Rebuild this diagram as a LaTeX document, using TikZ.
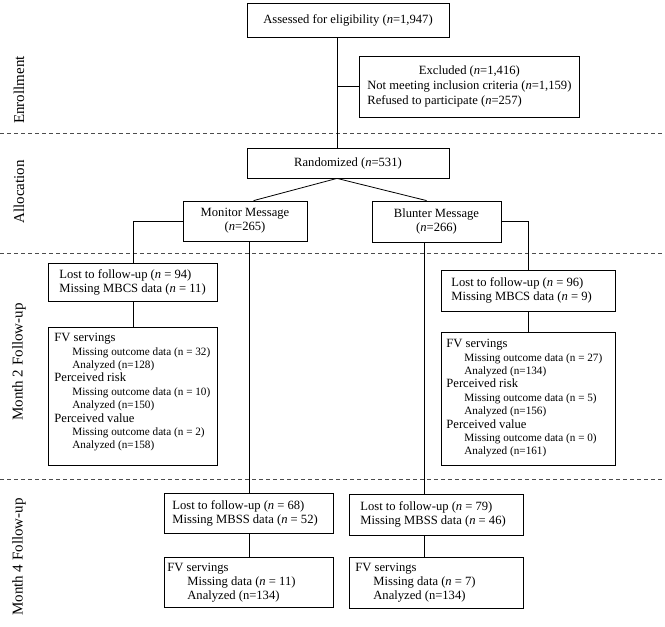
\documentclass[tikz,border=0pt]{standalone}
\usepackage{fontspec}
\setmainfont{Liberation Serif}
\usetikzlibrary{calc}
\newcommand\bxf{\fontsize{12.6}{14}\selectfont}
\newcommand\exf{\fontsize{12.6}{15}\selectfont}
\newcommand\fvf{\fontsize{12.6}{13.4}\selectfont}
\newcommand\sbf{\fontsize{11.2}{13.4}\selectfont}
\newcommand\phf{\fontsize{15}{17}\selectfont}
\newcommand\ind[1]{\hspace*{18pt}{\sbf #1}}
\newcommand\lb[3]{\parbox{#1}{\bxf\raggedright\leftskip=#2\relax #3\par}}
\begin{document}
\begin{tikzpicture}[x=1pt,y=-1pt,
  box/.style={draw, line width=0.8pt, inner sep=0pt, font=\bxf},
  conn/.style={line width=0.8pt},
  sepline/.style={line width=0.7pt, dash pattern=on 4pt off 3pt, draw=black!70},
  phase/.style={rotate=90, font=\phf, inner sep=0pt}]
\useasboundingbox (0,0) rectangle (665,627);

% phase separators
\draw[sepline] (0,133) -- (665,133);
\draw[sepline] (0,253) -- (665,253);
\draw[sepline] (0,479) -- (665,479);

% phase labels
\node[phase] (ph1) at (19,90) {Enrollment};
\node[phase] (ph2) at (19,192) {Allocation};
\node[phase] (ph3) at (19,362) {Month 2 Follow-up};
\node[phase] (ph4) at (19,557) {Month 4 Follow-up};

% enrollment
\node[box, minimum width=202pt, minimum height=34pt] (assess) at (348,20)
  {Assessed for eligibility (\textit{n}=1,947)};
\node[box, font=\exf, minimum width=220pt, minimum height=61pt, anchor=west] (excl) at (359,86.5)
  {\begin{tabular}{@{}l@{}}\multicolumn{1}{@{}c@{}}{Excluded (\textit{n}=1,416)}\\
   Not meeting inclusion criteria (\textit{n}=1,159)\\
   Refused to participate (\textit{n}=257)\end{tabular}};

% allocation
\node[box, minimum width=202pt, minimum height=30pt] (rand) at (348,163)
  {Randomized (\textit{n}=531)};
\node[box, align=center, minimum width=124pt, minimum height=40pt] (mon) at (245,221)
  {Monitor Message\\(\textit{n}=265)};
\node[box, align=center, minimum width=129pt, minimum height=41pt] (blu) at (436.5,221.5)
  {Blunter Message\\(\textit{n}=266)};

% month 2
\node[box, minimum height=38pt, anchor=north west] (lostL) at (48,263)
  {\lb{169pt}{11pt}{Lost to follow-up (\textit{n} = 94)\\Missing MBCS data (\textit{n} = 11)}};
\node[box, minimum height=41pt, anchor=north west] (lostR) at (441,270)
  {\lb{174pt}{10pt}{Lost to follow-up (\textit{n} = 96)\\Missing MBCS data (\textit{n} = 9)}};
\node[box, minimum width=169pt, minimum height=138pt, anchor=north west] (fvL) at (48,327)
  {\parbox[c][138pt][t]{169pt}{\fvf\raggedright\leftskip=6pt\vspace*{5.9pt}%
   FV servings\\
   \ind{Missing outcome data (n = 32)}\\
   \ind{Analyzed (n=128)}\\
   Perceived risk\\
   \ind{Missing outcome data (n = 10)}\\
   \ind{Analyzed (n=150)}\\
   Perceived value\\
   \ind{Missing outcome data (n = 2)}\\
   \ind{Analyzed (n=158)}\par}};
\node[box, minimum width=174pt, minimum height=133pt, anchor=north west] (fvR) at (441,332)
  {\parbox[c][133pt][t]{174pt}{\fvf\raggedright\leftskip=5pt\vspace*{6.9pt}%
   FV servings\\
   \ind{Missing outcome data (n = 27)}\\
   \ind{Analyzed (n=134)}\\
   Perceived risk\\
   \ind{Missing outcome data (n = 5)}\\
   \ind{Analyzed (n=156)}\\
   Perceived value\\
   \ind{Missing outcome data (n = 0)}\\
   \ind{Analyzed (n=161)}\par}};

% month 4
\node[box, minimum height=40pt, anchor=north west] (lost4L) at (164,493)
  {\lb{169pt}{8pt}{Lost to follow-up (\textit{n} = 68)\\Missing MBSS data (\textit{n} = 52)}};
\node[box, minimum height=41pt, anchor=north west] (lost4R) at (349,494)
  {\lb{174pt}{11pt}{Lost to follow-up (\textit{n} = 79)\\Missing MBSS data (\textit{n} = 46)}};
\node[box, minimum height=50pt, anchor=north west] (fv4L) at (164,557)
  {\lb{169pt}{3pt}{FV servings\\\hspace*{20pt}Missing data (\textit{n} = 11)\\\hspace*{20pt}Analyzed (n=134)}};
\node[box, minimum height=51pt, anchor=north west] (fv4R) at (349,557)
  {\lb{174pt}{6pt}{FV servings\\\hspace*{18pt}Missing data (\textit{n} = 7)\\\hspace*{18pt}Analyzed (n=134)}};

% connectors
\coordinate (trunk) at (337,0);
\draw[conn] (assess.south -| trunk) -- (rand.north -| trunk);
\draw[conn] (excl.west -| trunk) -- (excl.west);
\coordinate (rs) at (rand.south -| trunk);
\draw[conn] (rs) -- ($(mon.north west)+(71,0)$);
\draw[conn] (rs) -- ($(blu.north west)+(55,0)$);
\draw[conn] (mon.west) -| (lostL.north);
\draw[conn] (lostL.south) -- (fvL.north);
\draw[conn] (blu.east) -| (lostR.north);
\draw[conn] (lostR.south) -- (fvR.north);
\draw[conn] (lost4L.north |- mon.south) -- (lost4L.north);
\draw[conn] (lost4L.south) -- (fv4L.north);
\coordinate (bdown) at ($(blu.south west)+(53,0)$);
\draw[conn] (bdown) -- (bdown |- lost4R.north);
\draw[conn] (bdown |- lost4R.south) -- (bdown |- fv4R.north);
\end{tikzpicture}
\end{document}
